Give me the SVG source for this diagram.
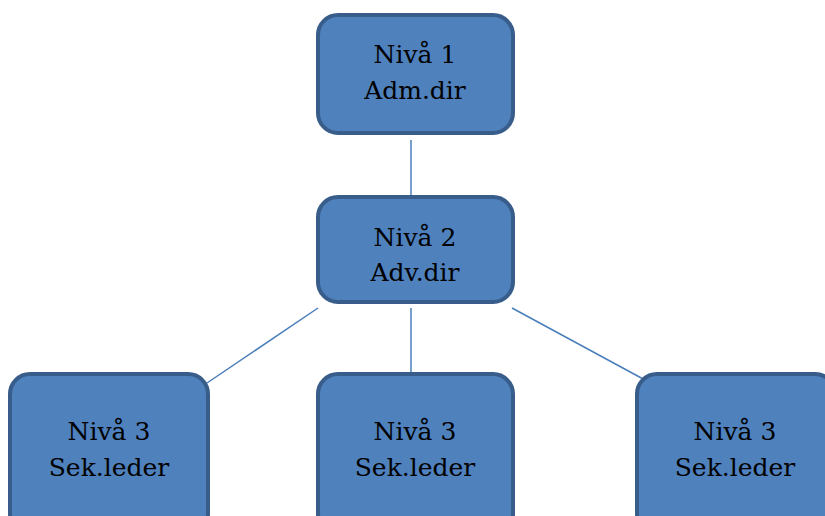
<svg xmlns="http://www.w3.org/2000/svg" width="825" height="516" viewBox="0 0 825 516">
<style>
.box{fill:#4F81BD;stroke:#385D8A;stroke-width:4}
.con{stroke:#4A7EBB;stroke-width:1.5;fill:none}
</style>
<rect width="825" height="516" fill="#fff"/>
<g id="connectors">
<line class="con" x1="411" y1="140" x2="411" y2="195"/>
<line class="con" x1="318" y1="308" x2="207" y2="383"/>
<line class="con" x1="411" y1="308" x2="411" y2="372"/>
<line class="con" x1="512" y1="308" x2="645" y2="380"/>
</g>
<g font-family="DejaVu Serif, serif" font-size="25" fill="#000" text-anchor="middle">
<g id="n1">
<rect class="box" x="318" y="15" width="195" height="118" rx="20"/>
<text x="415" y="63">Nivå 1</text>
<text x="415" y="99">Adm.dir</text>
</g>
<g id="n2">
<rect class="box" x="318" y="197" width="195" height="105" rx="20"/>
<text x="415" y="246">Nivå 2</text>
<text x="415" y="281">Adv.dir</text>
</g>
<g id="n3a">
<rect class="box" x="10" y="374" width="198" height="160" rx="20"/>
<text x="109" y="440">Nivå 3</text>
<text x="109" y="476">Sek.leder</text>
</g>
<g id="n3b">
<rect class="box" x="318" y="374" width="195" height="160" rx="20"/>
<text x="415" y="440">Nivå 3</text>
<text x="415" y="476">Sek.leder</text>
</g>
<g id="n3c">
<rect class="box" x="637" y="374" width="198" height="160" rx="20"/>
<text x="735" y="440">Nivå 3</text>
<text x="735" y="476">Sek.leder</text>
</g>
</g>
</svg>
